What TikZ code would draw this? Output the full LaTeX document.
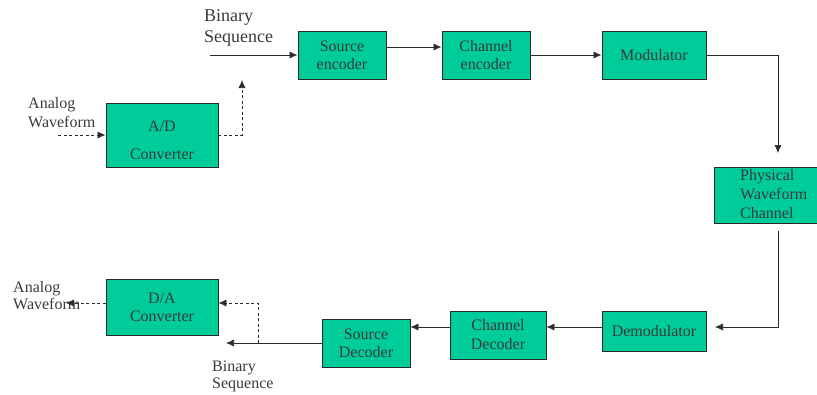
\documentclass[tikz,border=0pt]{standalone}
\usepackage{fontspec}
\setmainfont{Liberation Serif}
\usetikzlibrary{arrows.meta}
\definecolor{boxfill}{HTML}{00CC99}
\definecolor{txt}{HTML}{3A3A3A}
\definecolor{edge}{HTML}{2A2A2A}
\tikzset{
  blk/.style={draw=edge, line width=0.9pt, fill=boxfill, text=txt, align=center, inner sep=0pt,
    font=\fontsize{16}{18}\selectfont},
  lbl/.style={text=txt, align=left, anchor=west, inner sep=0pt, font=\fontsize{16}{17}\selectfont},
  conn/.style={draw=edge, line width=0.6pt, -{Latex[length=8pt,width=7pt]}},
  dashconn/.style={draw=edge, line width=0.7pt, dash pattern=on 3pt off 2.5pt, -{Latex[length=8pt,width=7pt]}},
}
\begin{document}
\begin{tikzpicture}[x=1pt,y=-1pt]
\useasboundingbox (0,0) rectangle (817,394);
\clip (0,0) rectangle (817,394);
% blocks
\node[blk, minimum width=112pt, minimum height=64pt,
  label={[text=txt, align=center, font=\fontsize{16}{18}\selectfont, yshift=-5pt]center:A/D\\[10pt]Converter}] (ad) at (162,135) {};
\node[blk, minimum width=88pt, minimum height=48pt] (se) at (342,55) {Source\\encoder};
\node[blk, minimum width=88pt, minimum height=48pt] (ce) at (486,55) {Channel\\encoder};
\node[blk, minimum width=104pt, minimum height=48pt] (mod) at (654,55) {Modulator};
\node[blk, minimum width=106pt, minimum height=56pt] (phy) at (767,195) {};
\node[text=txt, align=left, anchor=west, inner sep=0pt, font=\fontsize{16}{19}\selectfont] (phyt) at (740,194) {Physical\\Waveform\\Channel};
\node[blk, minimum width=104pt, minimum height=40pt] (dem) at (654,331) {Demodulator};
\node[blk, minimum width=96pt, minimum height=48pt] (cd) at (498,335) {Channel\\[1pt]Decoder};
\node[blk, minimum width=88pt, minimum height=48pt] (sd) at (366,343) {Source\\Decoder};
\node[blk, minimum width=112pt, minimum height=56pt] (da) at (162,307) {D/A\\Converter};
% labels
\node[lbl, font=\fontsize{18}{21}\selectfont] (bs1) at (204,28) {Binary\\Sequence};
\node[lbl, font=\fontsize{16}{19}\selectfont] (aw1) at (28,113) {Analog\\Waveform};
\node[lbl] (aw2) at (13,296) {Analog\\Waveform};
\node[lbl] (bs2) at (212,376) {Binary\\Sequence};
% coordinates
\coordinate (bsin) at (210,55);
\coordinate (awin) at (58,135);
\coordinate (adc) at (242,135);
\coordinate (adt) at (242,80);
\coordinate (mc) at (778,55);
\coordinate (mt) at (778,153);
\coordinate (pb) at (778,231);
\coordinate (pc) at (778,327);
\coordinate (pt) at (715,327);
\coordinate (sdt) at (226,343);
\coordinate (dc) at (258,343);
\coordinate (dc2) at (258,303);
\coordinate (awout) at (66,303);
% connectors
\draw[conn] (bsin) -- (se.west);
\draw[dashconn] (awin) -- (awin -| ad.west);
\draw[dashconn] (adc -| ad.east) -- (adc) -- (adt);
\draw[conn] ([yshift=8pt]se.east) -- ([yshift=8pt]se.east -| ce.west);
\draw[conn] (ce.east) -- (mod.west);
\draw[conn] (mod.east) -- (mc) -- (mt);
\draw[conn] (pb) -- (pc) -- (pt);
\draw[conn] ([yshift=4pt]dem.west) -- ([yshift=4pt]dem.west -| cd.east);
\draw[conn] ([yshift=8pt]cd.west) -- ([yshift=8pt]cd.west -| sd.east);
\draw[conn] (sd.west) -- (sdt);
\draw[dashconn] (dc) -- (dc2) -- (dc2 -| da.east);
\draw[dashconn] (dc2 -| da.west) -- (awout);
\end{tikzpicture}
\end{document}
